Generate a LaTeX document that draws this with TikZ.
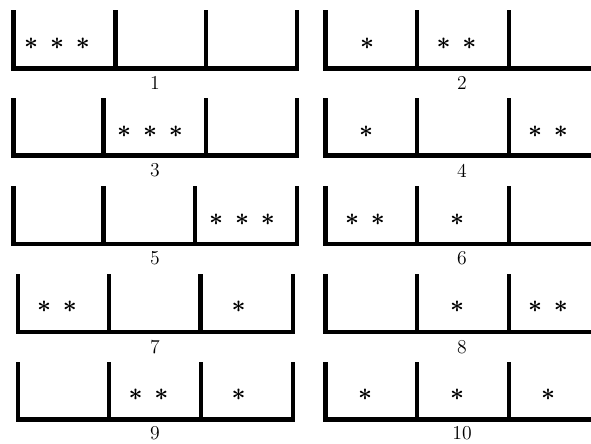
\documentclass[tikz,border=0pt]{standalone}
\usepackage{tikz}

\newcommand{\gap}{\hspace{8.4pt}}

\begin{document}
\begin{tikzpicture}[x=0.025cm,y=-0.025cm,
		wall/.style={line width=3.5pt},
		num/.style={font=\fontsize{14}{16}\selectfont, inner sep=1pt},
		ball/.style={font=\fontsize{16}{18}\selectfont\boldmath, inner sep=0pt}]
	\useasboundingbox (0,0) rectangle (591,443);

	% left column
	\draw[wall] (13.5,10) -- (13.5,68.5) -- (297,68.5) -- (297,10) (115.5,10) -- (115.5,68.5) (206,10) -- (206,68.5);
	\draw[wall] (13.5,98) -- (13.5,155.5) -- (297,155.5) -- (297,98) (103.5,98) -- (103.5,155.5) (206,98) -- (206,155.5);
	\draw[wall] (13.5,186) -- (13.5,244) -- (297,244) -- (297,186) (103.5,186) -- (103.5,244) (195,186) -- (195,244);
	\draw[wall] (18,274) -- (18,332) -- (293,332) -- (293,274) (109,274) -- (109,332) (200.5,274) -- (200.5,332);
	\draw[wall] (18,362) -- (18,419.5) -- (293,419.5) -- (293,362) (109,362) -- (109,419.5) (201,362) -- (201,419.5);

	% right column
	\draw[wall] (325.5,10) -- (325.5,68.5) -- (596,68.5) (417,10) -- (417,68.5) (509,10) -- (509,68.5);
	\draw[wall] (325.5,98) -- (325.5,155.5) -- (596,155.5) (417,98) -- (417,155.5) (509,98) -- (509,155.5);
	\draw[wall] (325.5,186) -- (325.5,244) -- (596,244) (417,186) -- (417,244) (509,186) -- (509,244);
	\draw[wall] (325.5,274) -- (325.5,332) -- (596,332) (417,274) -- (417,332) (509,274) -- (509,332);
	\draw[wall] (325.5,362) -- (325.5,419.5) -- (596,419.5) (417,362) -- (417,419.5) (509,362) -- (509,419.5);

	% stars
	\node[ball] (b1a) at (57,44) {$*$\gap$*$\gap$*$};
	\node[ball] (b2a) at (367,44) {$*$};
	\node[ball] (b2b) at (456.5,44) {$*$\gap$*$};
	\node[ball] (b3b) at (150,131.5) {$*$\gap$*$\gap$*$};
	\node[ball] (b4a) at (366,131.5) {$*$};
	\node[ball] (b4c) at (548,131.5) {$*$\gap$*$};
	\node[ball] (b5c) at (242,220) {$*$\gap$*$\gap$*$};
	\node[ball] (b6a) at (365,220) {$*$\gap$*$};
	\node[ball] (b6b) at (457,220) {$*$};
	\node[ball] (b7a) at (57,307) {$*$\gap$*$};
	\node[ball] (b7c) at (238.5,307) {$*$};
	\node[ball] (b8b) at (457,307) {$*$};
	\node[ball] (b8c) at (548,307) {$*$\gap$*$};
	\node[ball] (b9b) at (148.5,395) {$*$\gap$*$};
	\node[ball] (b9c) at (238.5,395) {$*$};
	\node[ball] (b10a) at (365,395) {$*$};
	\node[ball] (b10b) at (457,395) {$*$};
	\node[ball] (b10c) at (548,395) {$*$};

	% numbers
	\node[num] (n1) at (155,83) {1};
	\node[num] (n2) at (462,83) {2};
	\node[num] (n3) at (155,170.5) {3};
	\node[num] (n4) at (462,170.5) {4};
	\node[num] (n5) at (155,258.5) {5};
	\node[num] (n6) at (462,258.5) {6};
	\node[num] (n7) at (155,347) {7};
	\node[num] (n8) at (462,347) {8};
	\node[num] (n9) at (155,433.5) {9};
	\node[num] (n10) at (462,433.5) {10};
\end{tikzpicture}
\end{document}
